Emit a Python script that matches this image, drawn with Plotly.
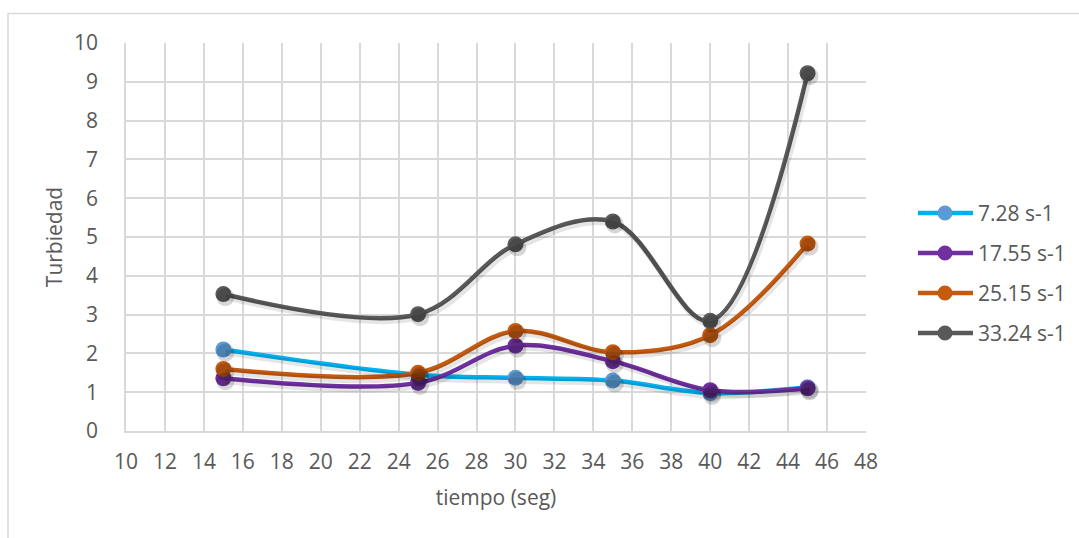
import plotly.graph_objects as go

# Tiempo de muestreo (s) y turbiedad medida para cada gradiente de velocidad
tiempo = [15, 25, 30, 35, 40, 45]
serie_nombres = ["7.28 s-1", "17.55 s-1", "25.15 s-1", "33.24 s-1"]
turb_728 = [2.1, 1.45, 1.37, 1.3, 0.98, 1.13]
turb_1755 = [1.36, 1.24, 2.2, 1.8, 1.05, 1.1]
turb_2515 = [1.6, 1.5, 2.58, 2.03, 2.47, 4.83]
turb_3324 = [3.53, 3.01, 4.81, 5.4, 2.84, 9.22]

x_ticks = list(range(10, 50, 2))
y_ticks = list(range(0, 11, 1))

line_colors = ["#00B0F0", "#7030A0", "#C55A11", "#595959"]
marker_colors = ["#5B9BD5", "#7030A0", "#C55A11", "#595959"]
series = [turb_728, turb_1755, turb_2515, turb_3324]

FONT = "Open Sans"
FS = 21
TXT = "#595959"
GRID = "#D9D9D9"

W, H = 1079, 538
ML, MR, MT, MB = 126, 213, 43, 107
PW, PH = W - ML - MR, H - MT - MB
X_RANGE = [10, 48]
Y_RANGE = [0, 10]


def px_to_paper_x(px):
    return (px - ML) / PW


def px_to_paper_y(py):
    return (H - MB - py) / PH


# soft drop shadow: same series on a hidden axis pair nudged a few pixels
sh_dx, sh_dy = 2.0, 3.0
ux = (X_RANGE[1] - X_RANGE[0]) / PW
uy = (Y_RANGE[1] - Y_RANGE[0]) / PH

fig = go.Figure()

for i, vals in enumerate(series):
    fig.add_trace(go.Scatter(
        x=tiempo, y=vals, xaxis="x2", yaxis="y2",
        mode="lines+markers", hoverinfo="skip", showlegend=False,
        line=dict(color="rgba(0,0,0,0.10)", width=6, shape="spline", smoothing=1),
        marker=dict(color="rgba(0,0,0,0.16)", size=18, line=dict(width=0)),
    ))

for i, (name, vals) in enumerate(zip(serie_nombres, series)):
    fig.add_trace(go.Scatter(
        x=tiempo, y=vals, name=name,
        mode="lines+markers",
        line=dict(color=line_colors[i], width=4.5, shape="spline", smoothing=1),
        marker=dict(color=marker_colors[i], size=16, line=dict(width=0)),
        showlegend=False,
    ))

fig.update_layout(
    width=W, height=H,
    margin=dict(l=ML, r=MR, t=MT, b=MB, autoexpand=False),
    paper_bgcolor="white", plot_bgcolor="white",
    font=dict(family=FONT, size=FS, color=TXT),
    showlegend=False,
    xaxis=dict(
        range=X_RANGE, tickvals=x_ticks, ticktext=[str(v) for v in x_ticks],
        showgrid=True, gridcolor=GRID, gridwidth=1.5,
        zeroline=False, showline=True, linecolor=GRID, linewidth=1.5,
        ticks="", ticklabelstandoff=11,
        title=dict(text="tiempo (seg)", font=dict(family=FONT, size=FS, color=TXT), standoff=16),
    ),
    yaxis=dict(
        range=Y_RANGE, tickvals=y_ticks,
        showgrid=True, gridcolor=GRID, gridwidth=1.5,
        zeroline=False, showline=True, linecolor=GRID, linewidth=1.5,
        ticks="", ticklabelstandoff=22,
        title=dict(text="Turbiedad", font=dict(family=FONT, size=FS, color=TXT), standoff=6),
    ),
    xaxis2=dict(
        overlaying="x", range=[X_RANGE[0] - sh_dx * ux, X_RANGE[1] - sh_dx * ux],
        visible=False, showgrid=False, zeroline=False,
    ),
    yaxis2=dict(
        overlaying="y", range=[Y_RANGE[0] + sh_dy * uy, Y_RANGE[1] + sh_dy * uy],
        visible=False, showgrid=False, zeroline=False,
    ),
)

# Chart area frame
fig.add_shape(
    type="rect", xref="paper", yref="paper",
    x0=px_to_paper_x(8), x1=1.6, y0=-0.5, y1=px_to_paper_y(13.5),
    line=dict(color="#D9D9D9", width=1.5), fillcolor="rgba(0,0,0,0)", layer="below",
)

# Legend: line sample with a marker, then the series name
leg_x0, leg_x1, leg_mid, leg_txt = 918, 973, 945, 976
leg_rows = [213, 253, 293, 333]
for i, name in enumerate(serie_nombres):
    yp = px_to_paper_y(leg_rows[i])
    fig.add_shape(
        type="line", xref="paper", yref="paper",
        x0=px_to_paper_x(leg_x0), x1=px_to_paper_x(leg_x1), y0=yp, y1=yp,
        line=dict(color=line_colors[i], width=4.5),
    )
    fig.add_shape(
        type="circle", xref="paper", yref="paper",
        xsizemode="pixel", ysizemode="pixel",
        xanchor=px_to_paper_x(leg_mid), yanchor=yp,
        x0=-7.5, x1=7.5, y0=-7.5, y1=7.5,
        fillcolor=marker_colors[i], line=dict(width=0),
    )
    fig.add_annotation(
        x=px_to_paper_x(leg_txt), y=yp, xref="paper", yref="paper",
        text=name, showarrow=False, xanchor="left", yanchor="middle",
        font=dict(family=FONT, size=FS, color=TXT),
    )

fig.write_html("out.html")
